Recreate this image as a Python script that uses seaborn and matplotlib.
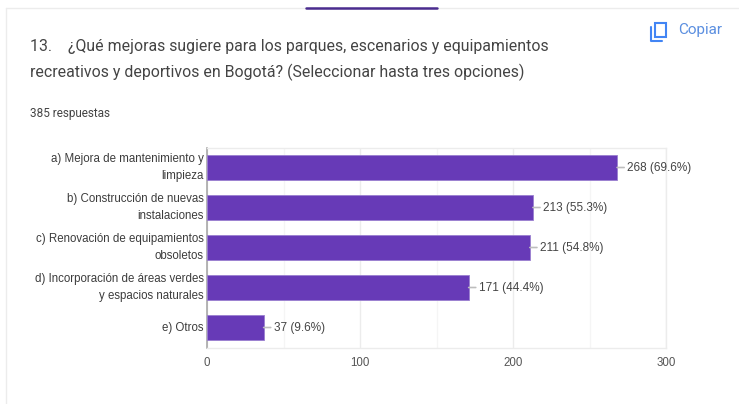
import matplotlib
matplotlib.use('Agg')
import pandas as pd
import seaborn as sns
import matplotlib.pyplot as plt
from matplotlib.patches import Rectangle

categorias = [
    'a) Mejora de mantenimiento y\nlimpieza',
    'b) Construcción de nuevas\ninstalaciones',
    'c) Renovación de equipamientos\nobsoletos',
    'd) Incorporación de áreas verdes\ny espacios naturales',
    'e) Otros',
]
respuestas = [268, 213, 211, 171, 37]
porcentajes = ['69.6%', '55.3%', '54.8%', '44.4%', '9.6%']
ticks = [0, 100, 200, 300]
minor_ticks = [50, 150, 250]

W, H = 739, 404
PURPLE = '#673ab7'

sns.set_theme(style='white')
plt.rcParams['font.family'] = ['Liberation Sans', 'DejaVu Sans']

df = pd.DataFrame({'categoria': categorias, 'respuestas': respuestas})

fig = plt.figure(figsize=(W / 100, H / 100), dpi=100)
fig.patch.set_facecolor('white')
# plot area from the pixel box of the reference
ax = fig.add_axes([207 / W, 1 - 347.5 / H, 459 / W, 200 / H])

sns.barplot(data=df, x='respuestas', y='categoria', color=PURPLE, saturation=1,
            width=0.62, ax=ax, edgecolor='#9a7fd0', linewidth=0.6, zorder=3)

ax.set_xlim(0, 300)
ax.set_xticks(ticks)
ax.set_xticks(minor_ticks, minor=True)
ax.set(xlabel=None, ylabel=None)
ax.grid(False)
ax.grid(axis='x', which='major', color='#ececec', linewidth=1, zorder=0)
ax.grid(axis='x', which='minor', color='#f5f5f5', linewidth=1, zorder=0)
ax.tick_params(axis='x', which='both', length=0, pad=6.5, labelsize=8.3, labelcolor='#555555')
ax.tick_params(axis='y', length=0, pad=2.5, labelsize=8.3, labelcolor='#3c3c3c')
for lab in ax.get_yticklabels():
    lab.set_linespacing(1.5)
    lab.set_va('center')

for s in ['top', 'right', 'bottom']:
    ax.spines[s].set_color('#ececec')
    ax.spines[s].set_linewidth(1)
ax.spines['left'].set_color('#a8a8a8')
ax.spines['left'].set_linewidth(1.2)

for i, (v, p) in enumerate(zip(respuestas, porcentajes)):
    ax.annotate(f'{v} ({p})', xy=(v, i), xytext=(7.5, 0), textcoords='offset points',
                va='center', ha='left', fontsize=8.5, color='#444444', zorder=5,
                arrowprops=dict(arrowstyle='-', color='#bdbdbd', lw=1.2, shrinkA=0, shrinkB=0))

# card border and the purple stub on top
fig.add_artist(plt.Line2D([6 / W, 6 / W], [0, 1 - 8 / H], color='#ececec', lw=1))
fig.add_artist(plt.Line2D([6 / W, 1], [1 - 8 / H, 1 - 8 / H], color='#ececec', lw=1))
fig.add_artist(plt.Line2D([306 / W, 437 / W], [1 - 7.5 / H, 1 - 7.5 / H], color='#4a2c8f', lw=1.8))

fig.text(30 / W, 1 - 47 / H, '13.    ¿Qué mejoras sugiere para los parques, escenarios y equipamientos',
         family='Roboto', fontsize=11.4, color='#444444', va='center')
fig.text(30 / W, 1 - 72 / H, 'recreativos y deportivos en Bogotá? (Seleccionar hasta tres opciones)',
         family='Roboto', fontsize=11.4, color='#444444', va='center')
fig.text(30 / W, 1 - 114 / H, '385 respuestas', family='Roboto', fontsize=8.5,
         color='#444444', va='center')
fig.text(678 / W, 1 - 30 / H, 'Copiar', family='Roboto', fontsize=11,
         color='#5b8fe0', va='center')

# copy icon
fig.add_artist(Rectangle((654.5 / W, 1 - 37 / H), 11 / W, 14 / H, fill=False,
                         edgecolor='#4285f4', lw=1.5, transform=fig.transFigure))
fig.add_artist(plt.Line2D([650.5 / W, 650.5 / W, 662 / W], [1 - 27 / H, 1 - 41 / H, 1 - 41 / H],
                          color='#4285f4', lw=1.5))

fig.savefig('out.png', dpi=100)
